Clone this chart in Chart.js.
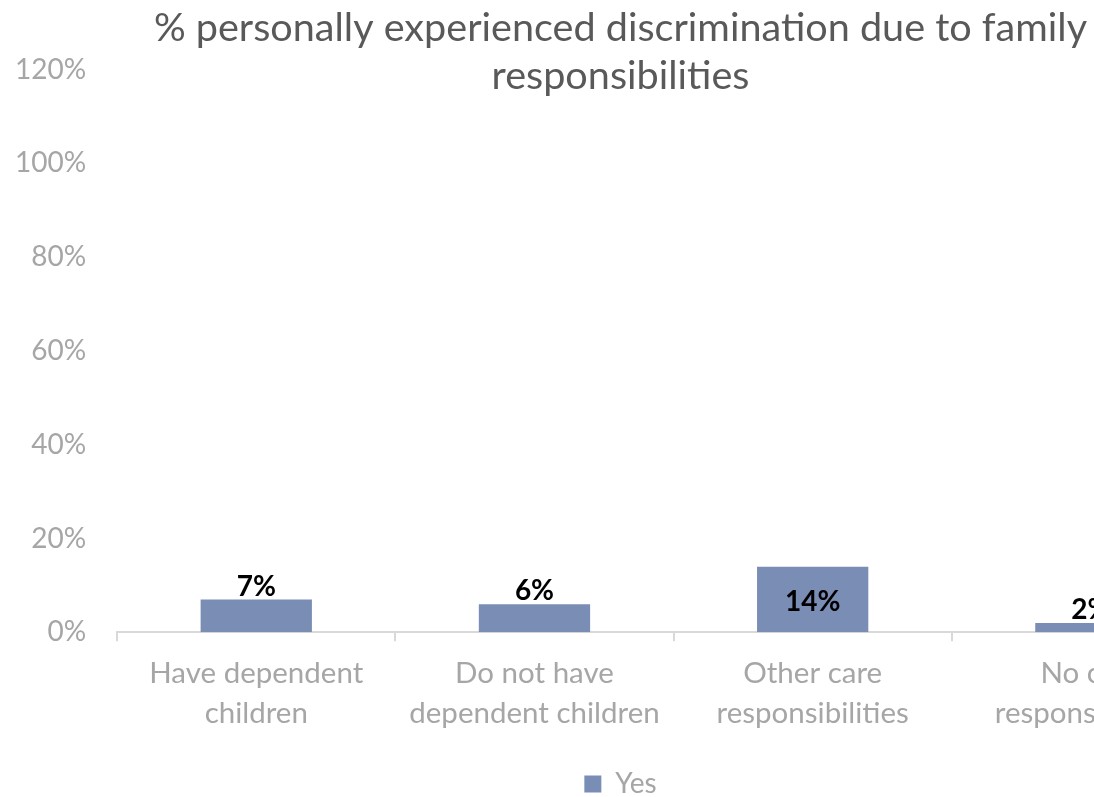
<!DOCTYPE html>
<html>
<head>
<meta charset="utf-8">
<script src="https://cdn.jsdelivr.net/npm/chart.js@4/dist/chart.umd.min.js"></script>
<style>
    html, body { margin: 0; padding: 0; overflow: hidden; background: #fff; }
    #wrap { width: 1240px; height: 797px; }
</style>
</head>
<body>
<div id="wrap"><canvas id="chart-area" width="1240" height="797"></canvas></div>
<script>
//chart data
var categories = [
    ["Have dependent", "children"],
    ["Do not have", "dependent children"],
    ["Other care", "responsibilities"],
    ["No care", "responsibilities"]
];
var yesValues = [0.07, 0.06, 0.14, 0.02];
var seriesName = "Yes";
var chartTitle = ["% personally experienced discrimination due to family", "responsibilities"];

var fontName = "Lato";
var barColor = "#7A8DB4";
var greyText = "#A6A6A6";

//draw value labels like excel: above the bar, inside if bar is tall enough
var valueLabels = {
    id: 'valueLabels',
    afterDatasetsDraw: function (chart) {
        var ctx = chart.ctx;
        var meta = chart.getDatasetMeta(0);
        ctx.save();
        ctx.font = 'bold 28px ' + fontName;
        ctx.fillStyle = '#000';
        ctx.textAlign = 'center';
        meta.data.forEach(function (bar, index) {
            var v = chart.data.datasets[0].data[index];
            var txt = Math.round(v * 100) + '%';
            if (bar.base - bar.y > 50) {
                ctx.textBaseline = 'middle';
                ctx.fillText(txt, bar.x, (bar.y + bar.base) / 2 + 2);
            } else {
                ctx.textBaseline = 'bottom';
                ctx.fillText(txt, bar.x, bar.y + 1);
            }
        });
        ctx.restore();
    }
};

var chart = new Chart(document.getElementById("chart-area").getContext("2d"), {
    type: "bar",
    plugins: [valueLabels],
    data: {
        labels: categories,
        datasets: [{
            label: seriesName,
            data: yesValues,
            backgroundColor: barColor,
            barPercentage: 0.4,
            categoryPercentage: 1.0
        }]
    },
    options: {
        responsive: false,
        animation: false,
        layout: {
            padding: { left: 11, right: 10, top: 0, bottom: -11 }
        },
        plugins: {
            title: {
                display: true,
                text: chartTitle,
                color: '#595959',
                font: { family: fontName, size: 39.6, weight: 'normal', lineHeight: 1.22 },
                padding: { top: 4, bottom: -31 }
            },
            legend: {
                position: 'bottom',
                labels: {
                    color: greyText,
                    font: { family: fontName, size: 28 },
                    boxWidth: 17,
                    boxHeight: 17,
                    padding: 0
                }
            },
            tooltip: { enabled: false }
        },
        scales: {
            y: {
                min: 0,
                max: 1.2,
                ticks: {
                    stepSize: 0.2,
                    color: greyText,
                    padding: 31,
                    font: { family: fontName, size: 28 },
                    callback: function (v) { return Math.round(v * 100) + '%'; }
                },
                grid: { display: false, drawTicks: false },
                border: { display: false },
                //axis reserves more room than the labels need, trim it
                afterFit: function (scale) { scale.width -= 27; }
            },
            x: {
                ticks: {
                    color: greyText,
                    padding: 12,
                    font: { family: fontName, size: 29.5, lineHeight: 1.35 }
                },
                grid: {
                    drawOnChartArea: false,
                    drawTicks: true,
                    tickLength: 9,
                    color: '#D9D9D9',
                    lineWidth: 2
                },
                border: { display: true, color: '#D9D9D9', width: 2 },
                //extra room between category labels and legend
                afterFit: function (scale) { scale.height += 25; }
            }
        }
    }
});
</script>
</body>
</html>
